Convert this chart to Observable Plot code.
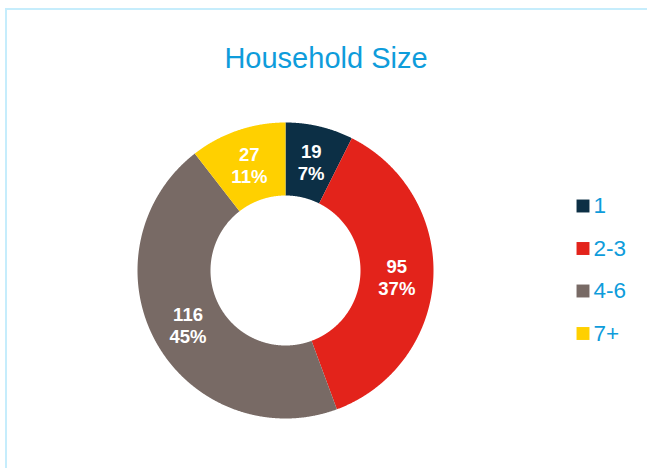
<!DOCTYPE html>
<html>
<head>
<meta charset="utf-8">
<script src="https://cdn.jsdelivr.net/npm/d3@7"></script>
<script src="https://cdn.jsdelivr.net/npm/@observablehq/plot@0.6"></script>
<style>
  html, body { margin: 0; padding: 0; background: #fff; overflow: hidden; }
  #wrap { position: relative; width: 647px; height: 468px; overflow: hidden; font-family: "Liberation Sans", Arial, sans-serif; }
  #frame { position: absolute; left: 5px; top: 8px; width: 700px; height: 520px; border-left: 2px solid #c6edfc; border-top: 2px solid #c6edfc; box-sizing: border-box; }
  #title { position: absolute; left: 0; width: 652px; top: 40px; text-align: center; font-size: 29px; color: #0e9cdb; line-height: 36px; }
  #chart { position: absolute; left: 0; top: 0; }
</style>
</head>
<body>
<div id="wrap">
  <div id="frame"></div>
  <div id="chart"></div>
  <div id="title">Household Size</div>
</div>
<script>
// ---- data ----
const categories = ["1", "2-3", "4-6", "7+"];
const counts = [19, 95, 116, 27];
const colors = ["#0c2f45", "#e3231b", "#786a65", "#ffd000"];

// ---- layout ----
const W = 647, H = 468;
const cx = 285, cy = 270, R = 148, r0 = 75;

const total = d3.sum(counts);
const pie = d3.pie().sort(null).value(d => d.count);
const slices = pie(categories.map((c, i) => ({key: c, count: counts[i]})));

const pt = (a, rad) => [cx + rad * Math.sin(a), cy - rad * Math.cos(a)];

// ring polygons derived from the pie angles
const ring = [];
for (const s of slices) {
  const n = Math.max(8, Math.ceil((s.endAngle - s.startAngle) / (Math.PI / 720)));
  for (let k = 0; k <= n; k++) {
    const a = s.startAngle + (s.endAngle - s.startAngle) * k / n;
    const [x, y] = pt(a, R);
    ring.push({key: s.data.key, x, y});
  }
  for (let k = n; k >= 0; k--) {
    const a = s.startAngle + (s.endAngle - s.startAngle) * k / n;
    const [x, y] = pt(a, r0);
    ring.push({key: s.data.key, x, y});
  }
}

const arc = d3.arc().innerRadius(r0).outerRadius(R);
const labels = slices.map(s => {
  const [dx, dy] = arc.centroid(s);
  return {x: cx + dx, y: cy + dy, text: `${s.data.count}\n${Math.round(100 * s.data.count / total)}%`};
});

const legendRows = categories.map((c, i) => ({key: c, x: 582.5, y: 205.5 + i * 42.5}));

const chart = Plot.plot({
  width: W,
  height: H,
  margin: 0,
  x: {domain: [0, W], range: [0, W], axis: null},
  y: {domain: [0, H], range: [0, H], axis: null},
  color: {domain: categories, range: colors},
  style: {background: "transparent", overflow: "visible"},
  marks: [
    Plot.line(ring, {x: "x", y: "y", z: "key", fill: "key", stroke: "none", curve: "linear-closed"}),
    Plot.text(labels, {x: "x", y: "y", text: "text", fill: "white", fontSize: 18.5, fontWeight: "bold", lineHeight: 1.18, fontFamily: "Liberation Sans, Arial, sans-serif"}),
    Plot.dot(legendRows, {x: "x", y: "y", fill: "key", symbol: "square", r: 7.3, stroke: "none"}),
    Plot.text(legendRows, {x: "x", y: "y", text: "key", dx: 10.5, textAnchor: "start", fill: "#0e9cdb", fontSize: 22.5, fontFamily: "Liberation Sans, Arial, sans-serif"})
  ]
});
document.getElementById("chart").appendChild(chart);
</script>
</body>
</html>
